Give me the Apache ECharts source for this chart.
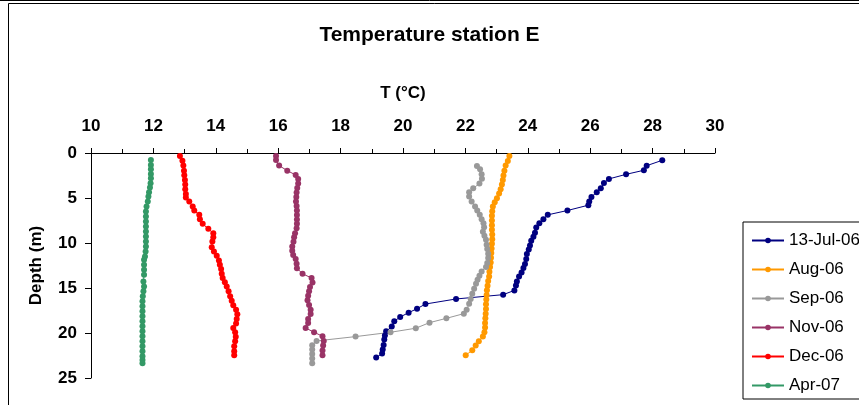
<!DOCTYPE html>
<html>
<head>
<meta charset="utf-8">
<script src="https://cdn.jsdelivr.net/npm/echarts@6/dist/echarts.min.js"></script>
<style>
  html, body { margin: 0; padding: 0; background: #fff; }
  #chart { width: 859px; height: 405px; }
</style>
</head>
<body>
<div id="chart"></div>
<script>
// Temperature profiles at station E: temperature (°C) against depth (m)
const seriesNames = ['13-Jul-06', 'Aug-06', 'Sep-06', 'Nov-06', 'Dec-06', 'Apr-07'];
const seriesColors = ['#000080', '#FF9900', '#999999', '#993366', '#FF0000', '#339966'];

const xTicks = { min: 10, max: 30, step: 2 };
const yTicks = { min: 0, max: 25, step: 5 };

const julT = [28.31, 27.81, 27.72, 27.15, 26.60, 26.44, 26.34, 26.21, 26.04, 25.97, 25.94, 25.27, 24.64, 24.50, 24.37, 24.27, 24.23, 24.18, 24.11, 24.07, 24.03, 23.97, 23.95, 23.91, 23.86, 23.80, 23.72, 23.65, 23.62, 23.57, 23.21, 21.70, 20.72, 20.45, 20.18, 19.91, 19.72, 19.64, 19.46, 19.42, 19.40, 19.38, 19.35, 19.33, 19.14];
const julD = [0.81, 1.41, 1.92, 2.37, 2.88, 3.33, 3.92, 4.36, 4.88, 5.40, 5.80, 6.39, 6.87, 7.35, 7.80, 8.28, 8.87, 9.31, 9.76, 10.27, 10.72, 11.23, 11.79, 12.34, 12.79, 13.27, 13.71, 14.27, 14.71, 15.27, 15.74, 16.22, 16.78, 17.30, 17.74, 18.22, 18.70, 19.29, 19.81, 20.29, 20.73, 21.32, 21.84, 22.28, 22.73];

const augT = [23.41, 23.36, 23.29, 23.25, 23.22, 23.20, 23.17, 23.13, 23.08, 23.01, 22.94, 22.88, 22.86, 22.85, 22.85, 22.85, 22.85, 22.86, 22.86, 22.85, 22.84, 22.83, 22.82, 22.81, 22.79, 22.77, 22.76, 22.73, 22.71, 22.69, 22.68, 22.67, 22.66, 22.66, 22.65, 22.64, 22.63, 22.63, 22.61, 22.56, 22.43, 22.33, 22.22, 22.01];
const augD = [0.33, 0.89, 1.40, 1.96, 2.51, 2.99, 3.51, 4.03, 4.51, 5.03, 5.47, 5.95, 6.47, 6.98, 7.50, 8.02, 8.54, 9.05, 9.57, 10.09, 10.61, 11.12, 11.64, 12.16, 12.67, 13.19, 13.71, 14.22, 14.74, 15.26, 15.78, 16.29, 16.81, 17.33, 17.85, 18.36, 18.88, 19.40, 19.92, 20.40, 20.92, 21.40, 21.92, 22.47];

const sepT = [22.37, 22.47, 22.52, 22.53, 22.45, 22.25, 22.12, 22.12, 22.20, 22.31, 22.38, 22.46, 22.52, 22.58, 22.60, 22.56, 22.61, 22.66, 22.68, 22.70, 22.73, 22.73, 22.70, 22.66, 22.52, 22.45, 22.39, 22.34, 22.28, 22.22, 22.17, 22.12, 22.04, 21.95, 21.39, 20.85, 20.41, 19.60, 18.48, 17.23, 17.09, 17.09, 17.09, 17.09, 17.09];
const sepD = [1.44, 1.81, 2.37, 2.85, 3.40, 3.92, 4.36, 4.84, 5.40, 5.95, 6.39, 6.87, 7.35, 7.80, 8.24, 8.76, 9.20, 9.65, 10.20, 10.68, 11.20, 11.68, 12.23, 12.67, 13.16, 13.64, 14.08, 14.52, 15.08, 15.63, 16.22, 16.74, 17.41, 17.85, 18.37, 18.85, 19.47, 19.92, 20.40, 20.88, 21.36, 21.84, 22.32, 22.84, 23.36];

const novT = [15.93, 15.93, 16.03, 16.29, 16.56, 16.64, 16.64, 16.61, 16.59, 16.58, 16.57, 16.59, 16.60, 16.60, 16.60, 16.60, 16.59, 16.54, 16.51, 16.49, 16.45, 16.45, 16.48, 16.56, 16.59, 16.60, 16.78, 17.07, 17.10, 17.02, 16.99, 16.96, 16.94, 16.99, 17.04, 17.04, 16.96, 16.96, 16.88, 17.15, 17.42, 17.46, 17.44, 17.42, 17.42];
const novD = [0.33, 0.78, 1.40, 1.96, 2.44, 2.88, 3.40, 3.90, 4.40, 4.90, 5.40, 5.90, 6.40, 6.90, 7.40, 7.87, 8.36, 8.91, 9.35, 9.87, 10.39, 10.87, 11.34, 11.79, 12.30, 12.80, 13.42, 13.89, 14.38, 14.89, 15.37, 15.85, 16.37, 16.89, 17.41, 17.89, 18.44, 18.88, 19.44, 19.92, 20.36, 20.88, 21.40, 21.95, 22.47];

const decT = [12.85, 12.93, 12.96, 12.98, 12.99, 13.01, 13.02, 13.02, 13.04, 13.04, 13.15, 13.26, 13.31, 13.47, 13.49, 13.58, 13.76, 13.92, 13.92, 13.89, 13.87, 13.94, 14.03, 14.10, 14.13, 14.17, 14.19, 14.22, 14.29, 14.35, 14.41, 14.46, 14.51, 14.56, 14.65, 14.69, 14.67, 14.65, 14.56, 14.62, 14.64, 14.62, 14.59, 14.59, 14.59];
const decD = [0.33, 0.85, 1.40, 1.96, 2.48, 2.99, 3.51, 4.03, 4.55, 4.95, 5.40, 5.95, 6.39, 6.87, 7.35, 7.87, 8.43, 8.91, 9.35, 9.83, 10.46, 10.94, 11.42, 11.94, 12.42, 12.90, 13.42, 13.89, 14.35, 14.82, 15.37, 15.93, 16.41, 16.93, 17.41, 17.93, 18.44, 18.94, 19.44, 19.92, 20.43, 20.92, 21.47, 22.03, 22.47];

const aprT = [11.92, 11.92, 11.92, 11.92, 11.92, 11.91, 11.89, 11.86, 11.84, 11.82, 11.78, 11.76, 11.76, 11.76, 11.76, 11.76, 11.76, 11.76, 11.76, 11.75, 11.73, 11.70, 11.70, 11.70, 11.70, 11.68, 11.70, 11.68, 11.66, 11.65, 11.65, 11.65, 11.65, 11.65, 11.65, 11.65, 11.65, 11.65, 11.65, 11.65, 11.65, 11.65, 11.65];
const aprD = [0.78, 1.33, 1.81, 2.33, 2.81, 3.36, 3.84, 4.36, 4.84, 5.40, 5.95, 6.51, 7.06, 7.61, 8.17, 8.73, 9.28, 9.83, 10.39, 10.94, 11.49, 11.86, 12.42, 12.97, 13.52, 14.27, 14.82, 15.37, 15.93, 16.48, 17.04, 17.59, 18.15, 18.70, 19.25, 19.81, 20.36, 20.92, 21.47, 22.03, 22.58, 23.00, 23.35];

const profiles = [[julT, julD], [augT, augD], [sepT, sepD], [novT, novD], [decT, decD], [aprT, aprD]];

const FONT = '"Liberation Sans", Arial, sans-serif';

const chart = echarts.init(document.getElementById('chart'), null, { renderer: 'canvas' });

chart.setOption({
  animation: false,
  backgroundColor: '#fff',
  title: {
    text: 'Temperature station E',
    left: 'center',
    top: 20,
    textStyle: { fontFamily: FONT, fontSize: 21, fontWeight: 'bold', color: '#000' }
  },
  graphic: [
    { type: 'line', shape: { x1: 0, y1: 0.5, x2: 859, y2: 0.5 }, style: { stroke: '#000', lineWidth: 1 } },
    { type: 'rect', shape: { x: 8.5, y: 3.5, width: 900, height: 420 }, style: { stroke: '#000', fill: null, lineWidth: 1 } }
  ],
  grid: { left: 91, right: 144, top: 153, bottom: 27 },
  legend: {
    orient: 'vertical',
    left: 743,
    top: 222,
    padding: [10, 12, 5, 8],
    itemWidth: 32,
    itemHeight: 7,
    itemGap: 12,
    borderColor: '#000',
    borderWidth: 1,
    textStyle: { fontFamily: FONT, fontSize: 17, color: '#000' },
    data: seriesNames
  },
  xAxis: {
    type: 'value',
    position: 'top',
    min: xTicks.min,
    max: xTicks.max,
    interval: xTicks.step,
    name: 'T (°C)',
    nameLocation: 'middle',
    nameGap: 51,
    nameTextStyle: { fontFamily: FONT, fontSize: 17, fontWeight: 'bold', color: '#000' },
    axisLine: { show: true, lineStyle: { color: '#000', width: 1 } },
    axisTick: { show: true, length: 5, lineStyle: { color: '#000' } },
    minorTick: { show: true, splitNumber: 2, length: 4, lineStyle: { color: '#000' } },
    splitLine: { show: false },
    axisLabel: { margin: 18, fontFamily: FONT, fontSize: 17, fontWeight: 'bold', color: '#000' }
  },
  yAxis: {
    type: 'value',
    inverse: true,
    min: yTicks.min,
    max: yTicks.max,
    interval: yTicks.step,
    name: 'Depth (m)',
    nameLocation: 'middle',
    nameGap: 46,
    nameTextStyle: { fontFamily: FONT, fontSize: 17, fontWeight: 'bold', color: '#000' },
    axisLine: { show: true, lineStyle: { color: '#000', width: 1 } },
    axisTick: { show: true, length: 6, lineStyle: { color: '#000' } },
    splitLine: { show: false },
    axisLabel: { margin: 14, fontFamily: FONT, fontSize: 17, fontWeight: 'bold', color: '#000' }
  },
  series: profiles.map(([t, d], i) => ({
    name: seriesNames[i],
    type: 'line',
    data: t.map((v, k) => [v, d[k]]),
    symbol: 'circle',
    symbolSize: 6,
    showAllSymbol: true,
    color: seriesColors[i],
    lineStyle: { width: 1, color: seriesColors[i] },
    itemStyle: { color: seriesColors[i] },
    emphasis: { disabled: true }
  }))
});
</script>
</body>
</html>
